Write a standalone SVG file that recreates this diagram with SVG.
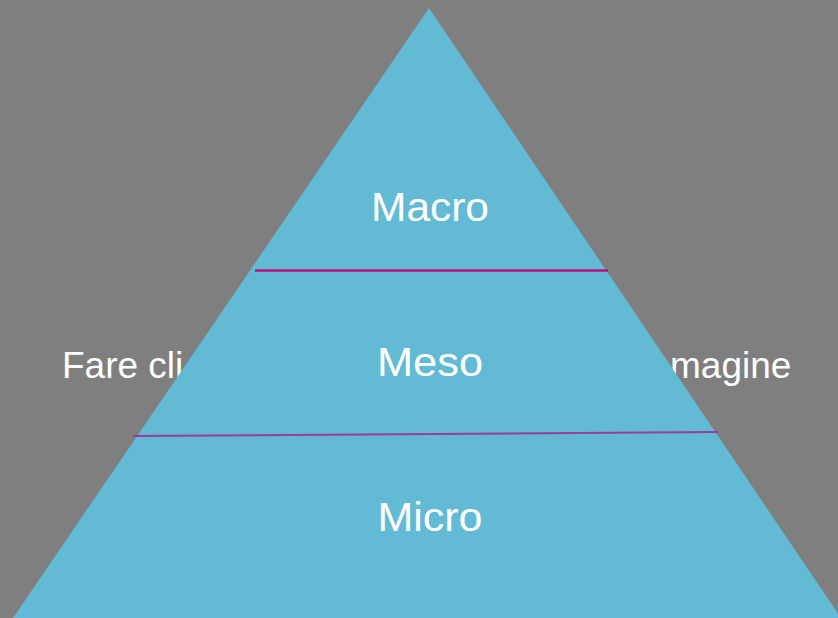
<svg xmlns="http://www.w3.org/2000/svg" width="838" height="618" viewBox="0 0 838 618">
  <style>
    .bg { fill: #7f7f7f; }
    .side { font-family: "Liberation Sans", Arial, sans-serif; font-size: 37px; fill: #ffffff; }
    .pyr { fill: #62bad5; }
    .lbl { font-family: "Liberation Sans", Arial, sans-serif; font-size: 40px; fill: #ffffff; text-anchor: middle; }
    .sep1 { stroke: #b8107a; stroke-width: 2.5; fill: none; }
    .sep2 { stroke: #9a3d9c; stroke-width: 2; fill: none; }
  </style>
  <rect class="bg" x="0" y="0" width="838" height="618"/>
  <g id="placeholder-text">
    <text class="side" x="62" y="378">Fare cli</text>
    <text class="side" x="670" y="378">magine</text>
  </g>
  <g id="pyramid">
    <polygon class="pyr" points="429,8 13,618 841,618"/>
  </g>
  <g id="connectors">
    <line class="sep1" x1="255" y1="270.5" x2="608" y2="270.5"/>
    <line class="sep2" x1="133" y1="436" x2="718" y2="432"/>
  </g>
  <g id="macro">
    <text class="lbl" x="430" y="221" textLength="118" lengthAdjust="spacingAndGlyphs">Macro</text>
  </g>
  <g id="meso">
    <text class="lbl" x="430" y="376" textLength="106" lengthAdjust="spacingAndGlyphs">Meso</text>
  </g>
  <g id="micro">
    <text class="lbl" x="430" y="531" textLength="105" lengthAdjust="spacingAndGlyphs">Micro</text>
  </g>
</svg>
